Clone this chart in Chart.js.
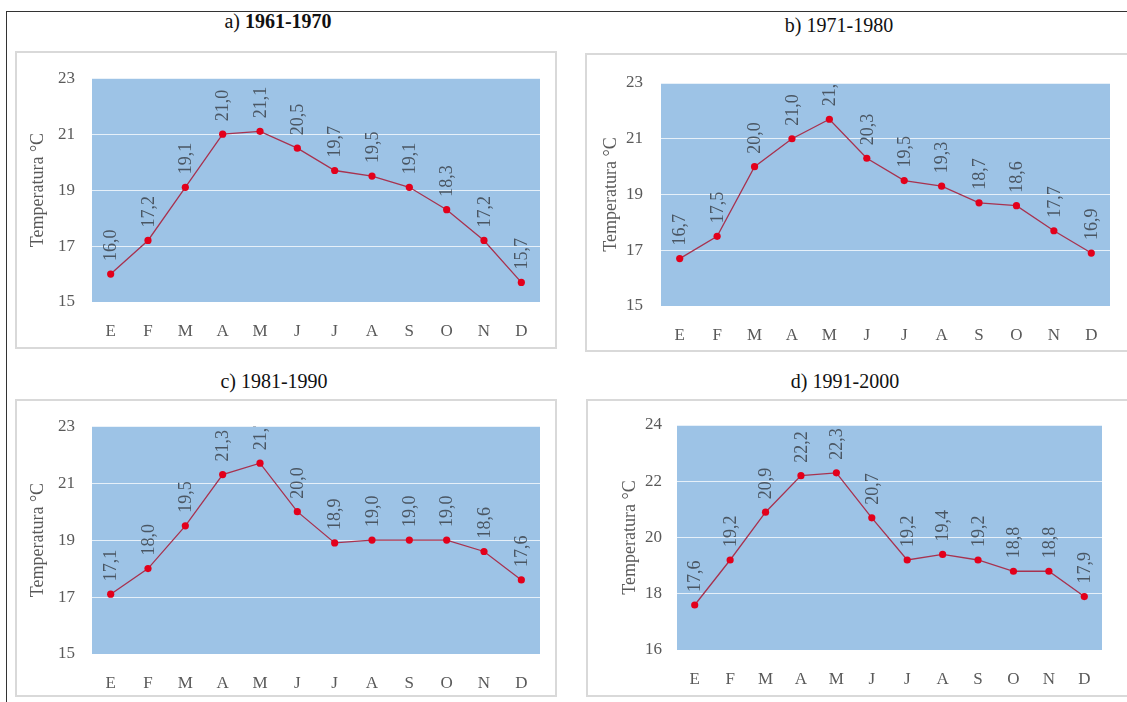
<!DOCTYPE html>
<html>
<head>
<meta charset="utf-8">
<script src="https://cdn.jsdelivr.net/npm/chart.js@4"></script>
<style>
  html, body { margin: 0; padding: 0; background: #fff; overflow: hidden; }
  body { width: 1127px; height: 702px; position: relative; font-family: "Liberation Serif", "Times New Roman", serif; }
  .frame { position: absolute; left: 6px; top: 11px; width: 1140px; height: 700px; border-left: 1.5px solid #333; border-top: 1.5px solid #333; }
  .title { position: absolute; font-size: 20px; color: #111; white-space: nowrap; transform: translate(-50%, -50%); }
  .box { position: absolute; border: 2px solid #d9d9d9; box-sizing: border-box; pointer-events: none; }
  canvas { position: absolute; }
</style>
</head>
<body>
<div class="frame"></div>

<div class="title" style="left:278px; top:21px;">a) <b>1961-1970</b></div>
<div class="title" style="left:839px; top:25px;">b) 1971-1980</div>
<div class="title" style="left:274px; top:381px;">c) 1981-1990</div>
<div class="title" style="left:845px; top:381px;">d) 1991-2000</div>

<canvas id="chartA"></canvas>
<canvas id="chartB"></canvas>
<canvas id="chartC"></canvas>
<canvas id="chartD"></canvas>

<script>
// meses (español)
const meses = ["E", "F", "M", "A", "M", "J", "J", "A", "S", "O", "N", "D"];

// temperatura media mensual por década (°C)
const temp1961 = [16.0, 17.2, 19.1, 21.0, 21.1, 20.5, 19.7, 19.5, 19.1, 18.3, 17.2, 15.7];
const temp1971 = [16.7, 17.5, 20.0, 21.0, 21.7, 20.3, 19.5, 19.3, 18.7, 18.6, 17.7, 16.9];
const temp1981 = [17.1, 18.0, 19.5, 21.3, 21.7, 20.0, 18.9, 19.0, 19.0, 19.0, 18.6, 17.6];
const temp1991 = [17.6, 19.2, 20.9, 22.2, 22.3, 20.7, 19.2, 19.4, 19.2, 18.8, 18.8, 17.9];

// rangos del eje y
const rangoABC = [15, 23];
const rangoD = [16, 24];

const SERIF = "'Liberation Serif', 'Times New Roman', serif";

// fondo azul del área de trazado
const plotBg = {
  id: "plotBg",
  beforeDraw(chart) {
    const a = chart.chartArea;
    const ctx = chart.ctx;
    ctx.save();
    ctx.fillStyle = "#9dc3e6";
    ctx.fillRect(a.left, a.top, a.right - a.left, a.bottom - a.top);
    ctx.restore();
  }
};

// etiquetas de valor verticales encima de cada punto
const etiquetas = {
  id: "etiquetas",
  afterDatasetsDraw(chart) {
    const ctx = chart.ctx;
    const a = chart.chartArea;
    const meta = chart.getDatasetMeta(0);
    const vals = chart.data.datasets[0].data;
    ctx.save();
    ctx.beginPath();
    ctx.rect(a.left, a.top, a.right - a.left, a.bottom - a.top);
    ctx.clip();
    ctx.font = "18px " + SERIF;
    ctx.fillStyle = "#4a5663";
    ctx.textAlign = "left";
    ctx.textBaseline = "middle";
    meta.data.forEach((pt, i) => {
      ctx.save();
      ctx.translate(pt.x + 1, pt.y - 13);
      ctx.rotate(-Math.PI / 2);
      ctx.fillText(vals[i].toFixed(1).replace(".", ","), 0, 0);
      ctx.restore();
    });
    ctx.restore();
  }
};

function makeChart(id, box, plot, valores, rango, titlePad, tickPad) {
  const cv = document.getElementById(id);
  cv.style.left = box.x + "px";
  cv.style.top = box.y + "px";
  cv.width = box.w;
  cv.height = box.h;
  cv.style.width = box.w + "px";
  cv.style.height = box.h + "px";

  const b = document.createElement("div");
  b.className = "box";
  b.style.left = box.x + "px";
  b.style.top = box.y + "px";
  b.style.width = box.w + "px";
  b.style.height = box.h + "px";
  document.body.appendChild(b);

  const left = plot.left - box.x;
  const top = plot.top - box.y;
  const right = box.x + box.w - plot.right;
  const bottom = box.y + box.h - plot.bottom;

  return new Chart(cv.getContext("2d"), {
    type: "line",
    data: {
      labels: meses,
      datasets: [{
        data: valores,
        borderColor: "#a8324f",
        borderWidth: 1.3,
        pointBackgroundColor: "#e3001b",
        pointBorderWidth: 0,
        pointRadius: 3.6,
        tension: 0,
        fill: false
      }]
    },
    options: {
      responsive: false,
      animation: false,
      layout: { padding: { left: 0, top: top, right: right, bottom: 0 } },
      plugins: { legend: { display: false }, tooltip: { enabled: false } },
      scales: {
        x: {
          offset: true,
          grid: { display: false },
          border: { display: false },
          ticks: { color: "#595959", font: { family: SERIF, size: 17 }, padding: 11, maxRotation: 0 },
          afterFit(s) { s.height = bottom; }
        },
        y: {
          min: rango[0],
          max: rango[1],
          grid: { color: "rgba(255,255,255,0.75)", lineWidth: 1, drawTicks: false },
          border: { display: false },
          ticks: { stepSize: 2, color: "#595959", font: { family: SERIF, size: 17 }, padding: tickPad },
          title: {
            display: true,
            text: "Temperatura °C",
            color: "#595959",
            font: { family: SERIF, size: 18 },
            padding: { top: titlePad, bottom: 0 }
          },
          afterFit(s) { s.width = left; }
        }
      }
    },
    plugins: [plotBg, etiquetas]
  });
}

function dibujar() {
  makeChart("chartA", { x: 15, y: 51, w: 542, h: 298 }, { left: 92, top: 76, right: 540, bottom: 302 }, temp1961, rangoABC, 12, 17);
  makeChart("chartB", { x: 585, y: 53, w: 560, h: 299 }, { left: 661, top: 83, right: 1110, bottom: 306 }, temp1971, rangoABC, 15, 18);
  makeChart("chartC", { x: 15, y: 399, w: 542, h: 298 }, { left: 92, top: 422, right: 540, bottom: 654 }, temp1981, rangoABC, 12, 17);
  makeChart("chartD", { x: 586, y: 399, w: 560, h: 298 }, { left: 677, top: 425, right: 1102, bottom: 650 }, temp1991, rangoD, 33, 15);
}

// esperar a que la fuente serif esté lista antes de pintar los canvas
Promise.all([
  document.fonts.load("17px 'Liberation Serif'"),
  document.fonts.load("bold 20px 'Liberation Serif'")
]).then(dibujar, dibujar);
</script>
</body>
</html>
